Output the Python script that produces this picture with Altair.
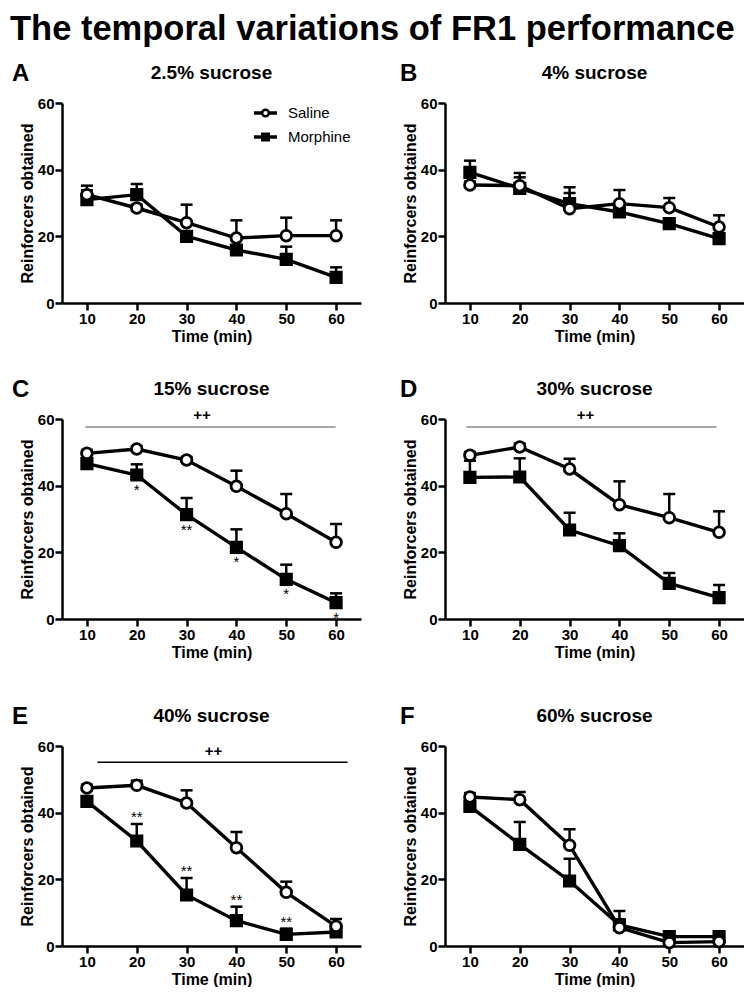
import altair as alt
import pandas as pd

# ---------------- data ----------------
TIME = [10, 20, 30, 40, 50, 60]
GROUPS = ["Saline", "Morphine"]
PANELS = ["A", "B", "C", "D", "E", "F"]
PANEL_TITLES = ["2.5% sucrose", "4% sucrose", "15% sucrose",
                "30% sucrose", "40% sucrose", "60% sucrose"]
MAIN_TITLE = "The temporal variations of FR1 performance"
Y_TICKS = [0, 20, 40, 60]

SALINE_MEAN = {
    "A": [32.5, 28.5, 24.1, 19.5, 20.2, 20.2],
    "B": [35.4, 35.2, 28.3, 29.8, 28.6, 22.8],
    "C": [49.7, 51.0, 47.7, 39.8, 31.6, 23.0],
    "D": [49.1, 51.6, 45.0, 34.3, 30.4, 26.0],
    "E": [47.4, 48.2, 42.9, 29.5, 16.1, 5.9],
    "F": [44.7, 43.9, 30.2, 5.5, 1.0, 1.3],
}
SALINE_SEM = {
    "A": [2.7, 1.0, 5.4, 5.3, 5.4, 4.6],
    "B": [1.0, 2.5, 6.4, 4.1, 2.9, 3.5],
    "C": [1.0, 0.8, 0.9, 4.7, 5.9, 5.5],
    "D": [1.0, 1.0, 3.1, 7.0, 7.1, 6.3],
    "E": [1.0, 1.4, 3.8, 4.7, 3.2, 2.2],
    "F": [1.2, 2.3, 4.8, 2.5, 1.0, 1.0],
}
MORPHINE_MEAN = {
    "A": [31.0, 32.5, 20.0, 15.9, 13.1, 7.7],
    "B": [39.2, 34.4, 29.8, 27.3, 23.8, 19.3],
    "C": [46.6, 43.2, 31.3, 21.5, 11.9, 4.9],
    "D": [42.5, 42.6, 26.7, 22.0, 10.7, 6.4],
    "E": [43.4, 31.5, 15.3, 7.6, 3.5, 4.2],
    "F": [41.9, 30.5, 19.5, 6.3, 2.8, 2.8],
}
MORPHINE_SEM = {
    "A": [2.8, 3.2, 1.0, 1.0, 3.8, 3.0],
    "B": [3.5, 4.6, 3.2, 1.5, 1.2, 1.0],
    "C": [1.0, 3.2, 5.0, 5.4, 4.4, 2.8],
    "D": [5.0, 5.6, 5.2, 3.7, 3.1, 3.8],
    "E": [1.5, 5.1, 5.1, 4.2, 1.7, 1.0],
    "F": [1.5, 6.7, 6.7, 4.2, 1.3, 1.3],
}

# "++" group-effect bars
SIG_PANELS = ["C", "D", "E"]
SIG_X1 = [9.7, 9.3, 12.1]
SIG_X2 = [59.9, 59.5, 62.3]
SIG_Y = [57.6, 57.6, 55.1]
SIG_COLOR = ["#8a8a8a", "#8a8a8a", "#000000"]
SIG_TEXT = ["++", "++", "++"]
SIG_TEXT_X = [33.1, 33.2, 35.4]
SIG_TEXT_Y = [61.1, 61.1, 58.5]

# asterisks (Morphine vs Saline at each time)
AST_C_TIME = [20, 30, 40, 50, 60]
AST_C_TEXT = ["*", "**", "*", "*", "*"]
AST_E_TIME = [20, 30, 40, 50]
AST_E_TEXT = ["**", "**", "**", "**"]

# ---------------- build tables ----------------
rows = []
for p in PANELS:
    for g, means, sems in (("Saline", SALINE_MEAN[p], SALINE_SEM[p]),
                           ("Morphine", MORPHINE_MEAN[p], MORPHINE_SEM[p])):
        for t, m, s in zip(TIME, means, sems):
            rows.append({"panel": p, "group": g, "time": t, "mean": m, "upper": m + s})
df = pd.DataFrame(rows)

FONT = "Liberation Sans"
W, H = 299, 200
TITLE_FS = 34.5
# layout frame of each panel (relative to its plot area)
FRAME_L = -54
FRAME_R = [W + 8, W]            # left column / right column
ROW_TOP = [-55, -66, -77]
ROW_BOTTOM = [H + 50, H + 50, H + 30]

xscale = alt.Scale(domain=[5, 65], nice=False, zero=False)
yscale = alt.Scale(domain=[0, 60], nice=False, zero=True)
xaxis = alt.Axis(values=TIME, title="Time (min)", labelFontSize=15, labelPadding=1,
                 titlePadding=2, labelAngle=0, labelFlush=False, format="d")
yaxis = alt.Axis(values=Y_TICKS, title="Reinforcers obtained", labelFontSize=15,
                 labelPadding=1, titlePadding=2, labelFlush=False, format="d")


def X(field):
    return alt.X(field, type="quantitative", scale=xscale, axis=xaxis)


def Y(field):
    return alt.Y(field, type="quantitative", scale=yscale, axis=yaxis)


one = pd.DataFrame({"a": [0]})


def frame(top, left, right, bottom):
    # invisible box fixing the panel's layout extent
    return alt.Chart(one).mark_rect(opacity=0).encode(
        x=alt.value(left), x2=alt.value(right), y=alt.value(top), y2=alt.value(bottom))


def make_panel(i):
    p = PANELS[i]
    right = i % 2 == 1
    r = i // 2
    d = df[df["panel"] == p]
    base = alt.Chart(d)

    err = base.mark_rule(color="black", strokeWidth=2.5).encode(
        x=X("time"), y=Y("mean"), y2="upper:Q", detail="group:N")
    caps = base.mark_tick(color="black", orient="horizontal", size=12, thickness=2.5,
                          opacity=1).encode(x=X("time"), y=Y("upper"))
    line = base.mark_line(color="black", strokeWidth=3.4).encode(
        x=X("time"), y=Y("mean"), detail="group:N")
    morph = base.transform_filter(alt.datum.group == "Morphine").mark_point(
        shape="square", filled=True, fill="black", stroke="black", size=125, opacity=1
    ).encode(x=X("time"), y=Y("mean"))
    sal = base.transform_filter(alt.datum.group == "Saline").mark_point(
        shape="circle", filled=True, fill="white", stroke="black", strokeWidth=2.8,
        size=115, opacity=1
    ).encode(x=X("time"), y=Y("mean"))

    letter = alt.Chart(pd.DataFrame({"t": [p]})).mark_text(
        font=FONT, fontSize=24, fontWeight="bold", align="left", baseline="alphabetic",
        color="black"
    ).encode(text="t:N", x=alt.value(-45 if right else -50), y=alt.value(-22))
    ptitle = alt.Chart(pd.DataFrame({"t": [PANEL_TITLES[i]]})).mark_text(
        font=FONT, fontSize=19, fontWeight="bold", align="center", baseline="alphabetic",
        color="black"
    ).encode(text="t:N", x=alt.value(W / 2), y=alt.value(-24))

    layers = [frame(ROW_TOP[r], FRAME_L, FRAME_R[1 if right else 0], ROW_BOTTOM[r]),
              err, caps, line, morph, sal, letter, ptitle]

    if p in SIG_PANELS:
        k = SIG_PANELS.index(p)
        sd = pd.DataFrame({"x1": [SIG_X1[k]], "x2": [SIG_X2[k]], "y": [SIG_Y[k]],
                           "tx": [SIG_TEXT_X[k]], "ty": [SIG_TEXT_Y[k]], "txt": [SIG_TEXT[k]]})
        layers.append(alt.Chart(sd).mark_rule(color=SIG_COLOR[k], strokeWidth=1.5).encode(
            x=X("x1"), x2="x2:Q", y=Y("y")))
        layers.append(alt.Chart(sd).mark_text(
            font=FONT, fontSize=15, fontWeight="bold", baseline="middle", color="black"
        ).encode(x=X("tx"), y=Y("ty"), text="txt:N"))

    if p == "C":
        md = d[d["group"] == "Morphine"].set_index("time")
        ad = pd.DataFrame({"time": AST_C_TIME, "txt": AST_C_TEXT,
                           "ypos": [md.loc[t, "mean"] for t in AST_C_TIME]})
        layers.append(alt.Chart(ad).mark_text(
            font=FONT, fontSize=15, baseline="alphabetic", dy=20, color="black"
        ).encode(x=X("time"), y=Y("ypos"), text="txt:N"))
    if p == "E":
        md = d[d["group"] == "Morphine"].set_index("time")
        ad = pd.DataFrame({"time": AST_E_TIME, "txt": AST_E_TEXT,
                           "ypos": [md.loc[t, "upper"] for t in AST_E_TIME]})
        layers.append(alt.Chart(ad).mark_text(
            font=FONT, fontSize=15, baseline="alphabetic", dy=-2, color="black"
        ).encode(x=X("time"), y=Y("ypos"), text="txt:N"))

    if p == "A":
        # legend
        for k, g in enumerate(GROUPS):
            ly = 10 + 24 * k
            ldf = pd.DataFrame({"g": [g]})
            layers.append(alt.Chart(ldf).mark_rule(color="black", strokeWidth=3.5).encode(
                x=alt.value(192), x2=alt.value(215), y=alt.value(ly)))
            if g == "Saline":
                layers.append(alt.Chart(ldf).mark_point(
                    shape="circle", filled=True, fill="white", stroke="black",
                    strokeWidth=2.5, size=45, opacity=1).encode(
                    x=alt.value(203.5), y=alt.value(ly)))
            else:
                layers.append(alt.Chart(ldf).mark_point(
                    shape="square", filled=True, fill="black", size=81, opacity=1).encode(
                    x=alt.value(203.5), y=alt.value(ly)))
            layers.append(alt.Chart(ldf).mark_text(
                font=FONT, fontSize=15, align="left", baseline="middle", color="black"
            ).encode(text="g:N", x=alt.value(226), y=alt.value(ly)))

    return alt.layer(*layers).properties(width=W, height=H)


# figure title row (its origin is aligned with the plot origins of the panels)
title_row = alt.layer(
    alt.Chart(one).mark_rect(opacity=0).encode(
        x=alt.value(FRAME_L), x2=alt.value(FRAME_L + 10), y=alt.value(0), y2=alt.value(40)),
    alt.Chart(pd.DataFrame({"t": [MAIN_TITLE]})).mark_text(
        font=FONT, fontSize=TITLE_FS, fontWeight="bold", align="left",
        baseline="alphabetic", color="black"
    ).encode(text="t:N", x=alt.value(FRAME_L + 2), y=alt.value(0.92 * TITLE_FS)),
).properties(width=1, height=1)

panels = [make_panel(i) for i in range(6)]
row1 = alt.hconcat(panels[0], panels[1], spacing=22)
row2 = alt.hconcat(panels[2], panels[3], spacing=22)
row3 = alt.hconcat(panels[4], panels[5], spacing=22)
chart = alt.vconcat(title_row, row1, row2, row3, spacing=0).properties(
    padding=0
).configure(font=FONT).configure_view(stroke=None).configure_axis(
    grid=False, domainColor="black", domainWidth=2.5, tickColor="black", tickWidth=2.5,
    tickSize=7, labelFont=FONT, labelFontWeight="bold", labelColor="black",
    titleFont=FONT, titleFontWeight="bold", titleFontSize=16, titleColor="black"
)

chart.save("out.html", embed_options={"renderer": "svg", "actions": False})
